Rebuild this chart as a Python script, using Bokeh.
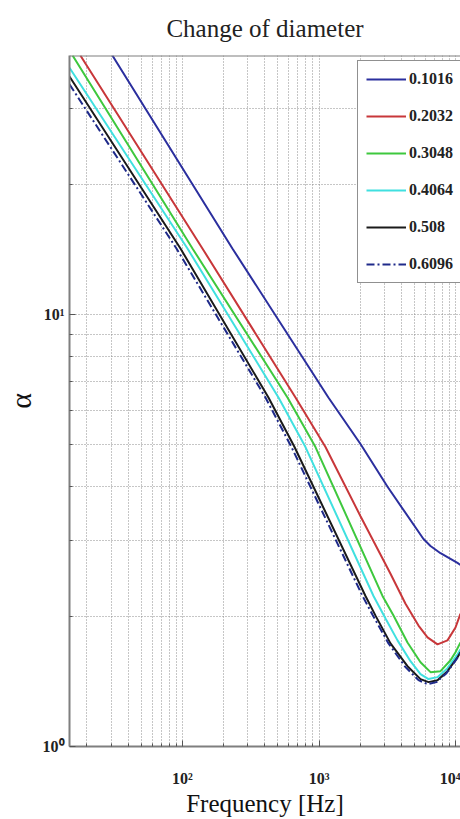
from bokeh.plotting import figure
from bokeh.models import FixedTicker, Legend, LegendItem, Range1d, Span
from bokeh.embed import file_html
from bokeh.resources import INLINE

SERIF = "Liberation Serif"

# Pipe diameters shown in the legend
diameters = ["0.1016", "0.2032", "0.3048", "0.4064", "0.508", "0.6096"]
colors = ["#2b2f9e", "#c8373a", "#3ec83e", "#40e0e0", "#1a1a1a", "#1f2a8a"]
dashes = ["solid", "solid", "solid", "solid", "solid", "8 3 2 3"]

# alpha versus frequency [Hz] for each diameter
freq_0_1016 = [30.7, 232, 1170, 2010, 3170, 5810, 6540, 7740, 10300, 10840]
alpha_0_1016 = [39.7, 14.2, 6.42, 5.01, 3.99, 3.02, 2.91, 2.80, 2.66, 2.63]

freq_0_2032 = [17.9, 140, 672, 1114, 2010, 3332, 4291, 5341, 6219, 7357, 8710, 9966, 10840]
alpha_0_2032 = [39.7, 14.2, 6.42, 4.93, 3.41, 2.51, 2.14, 1.905, 1.788, 1.723, 1.760, 1.885, 2.029]

freq_0_3048 = [15.7, 118.4, 587, 941, 2912, 3505, 4437, 5524, 6539, 7741, 9162, 9966, 10840]
alpha_0_3048 = [39.7, 14.2, 6.42, 4.93, 2.23, 2.01, 1.741, 1.567, 1.486, 1.494, 1.583, 1.652, 1.741]

freq_0_4064 = [14.9, 108.8, 504.5, 795, 2502, 3063, 3750, 4668, 5524, 6324, 7357, 8710, 10308, 10840]
alpha_0_4064 = [37.2, 14.2, 6.42, 4.93, 2.23, 1.977, 1.760, 1.575, 1.470, 1.432, 1.447, 1.518, 1.634, 1.678]

freq_0_508 = [14.9, 96.7, 426, 661, 2186, 2588, 3332, 4437, 5524, 6324, 7357, 8710, 10308, 10840]
alpha_0_508 = [35.5, 14.2, 6.42, 4.93, 2.23, 2.008, 1.732, 1.534, 1.432, 1.409, 1.424, 1.494, 1.609, 1.652]

freq_0_6096 = [14.9, 90.4, 405, 628, 2078, 2460, 3222, 4291, 5341, 6219, 7234, 8563, 10136, 10840]
alpha_0_6096 = [34.05, 14.2, 6.42, 4.93, 2.23, 2.018, 1.732, 1.526, 1.424, 1.394, 1.409, 1.478, 1.592, 1.643]

series_freq = [freq_0_1016, freq_0_2032, freq_0_3048, freq_0_4064, freq_0_508, freq_0_6096]
series_alpha = [alpha_0_1016, alpha_0_2032, alpha_0_3048, alpha_0_4064, alpha_0_508, alpha_0_6096]

# Axis ticks
x_major = [100, 1000, 10000]
x_minor = [m * d for d in (10, 100, 1000) for m in range(2, 10)]
y_major = [1, 10]
y_minor = [2, 3, 4, 5, 6, 7, 8, 9, 20, 30, 40]
x_tick_labels = {100: "10\u00b2", 1000: "10\u00b3", 10000: "10\u2074"}
y_tick_labels = {1: "10\u2070", 10: "10\u00b9"}

X_MIN, X_MAX = 14.9, 10842
Y_MIN, Y_MAX = 1, 39.7

p = figure(width=460, height=819, x_axis_type="log", y_axis_type="log",
           x_range=Range1d(X_MIN, X_MAX), y_range=Range1d(Y_MIN, Y_MAX),
           output_backend="svg", toolbar_location=None,
           min_border_left=69, min_border_right=0,
           min_border_top=55, min_border_bottom=67)

p.background_fill_color = "white"
p.border_fill_color = "white"
p.outline_line_color = None

p.title.text = "Change of diameter"
p.title.text_font = SERIF
p.title.text_font_size = "25px"
p.title.text_font_style = "normal"
p.title.text_color = "#222222"
p.title.align = "center"
p.title.vertical_align = "top"
p.title.standoff = 24

x_ticker = FixedTicker(ticks=x_major, minor_ticks=x_minor)
y_ticker = FixedTicker(ticks=y_major, minor_ticks=y_minor)

AXIS_GRAY = "#7f7f7f"

xa = p.below[0]
xa.ticker = x_ticker
xa.major_label_overrides = x_tick_labels
xa.axis_label = "Frequency [Hz]"

ya = p.left[0]
ya.ticker = y_ticker
ya.major_label_overrides = y_tick_labels
ya.axis_label = "\u03b1"

for ax in (xa, ya):
    ax.major_label_text_font = SERIF
    ax.major_label_text_font_style = "bold"
    ax.major_label_text_font_size = "16px"
    ax.major_label_text_color = "#222222"
    ax.major_label_text_line_height = 1.0
    ax.axis_label_text_font = SERIF
    ax.axis_label_text_font_style = "normal"
    ax.axis_label_text_color = "#111111"
    ax.axis_label_text_line_height = 1.0
    ax.axis_line_color = AXIS_GRAY
    ax.axis_line_width = 2
    ax.major_tick_in = 6
    ax.major_tick_out = 0
    ax.minor_tick_in = 3
    ax.minor_tick_out = 0
    ax.major_tick_line_color = "#555555"
    ax.minor_tick_line_color = "#555555"

xa.axis_label_text_font_size = "25px"
ya.axis_label_text_font_size = "30px"
xa.major_label_standoff = 23
xa.axis_label_standoff = 0
ya.major_label_standoff = 5
ya.axis_label_standoff = 3

# top border of the axes box
p.add_layout(Span(location=Y_MAX, dimension="width", line_color=AXIS_GRAY, line_width=2))

for grid, ticker in ((p.xgrid, x_ticker), (p.ygrid, y_ticker)):
    grid.ticker = ticker
    grid.grid_line_color = "#8c8c8c"
    grid.grid_line_dash = "1 2"
    grid.grid_line_width = 1
    grid.minor_grid_line_color = "#8c8c8c"
    grid.minor_grid_line_dash = "1 2"
    grid.minor_grid_line_width = 1

items = []
for label, fx, ay, color, dash in zip(diameters, series_freq, series_alpha, colors, dashes):
    r = p.line(fx, ay, line_color=color, line_width=2, line_dash=dash)
    items.append(LegendItem(label=label, renderers=[r]))

legend = Legend(items=items, location=(288, 463))
legend.label_text_font = SERIF
legend.label_text_font_style = "bold"
legend.label_text_font_size = "16px"
legend.label_text_color = "#222222"
legend.glyph_width = 40
legend.glyph_height = 20
legend.label_height = 20
legend.spacing = 17
legend.padding = 8
legend.margin = 0
legend.label_standoff = 3
legend.border_line_color = "#222222"
legend.border_line_width = 1
legend.background_fill_color = "white"
legend.background_fill_alpha = 1
p.add_layout(legend)

open("out.html", "w").write(file_html(p, INLINE))
